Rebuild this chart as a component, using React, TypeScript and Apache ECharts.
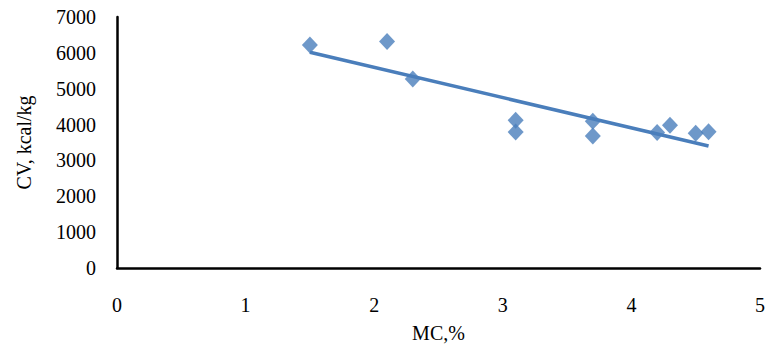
import React, { useEffect, useRef } from "react";
import * as echarts from "echarts";

const mcValues = [1.5, 2.1, 2.3, 3.1, 3.1, 3.7, 3.7, 4.2, 4.3, 4.5, 4.6];
const cvValues = [6220, 6320, 5270, 4120, 3790, 4090, 3680, 3780, 3980, 3760, 3800];
const xTicks = [0, 1, 2, 3, 4, 5];
const yTicks = [0, 1000, 2000, 3000, 4000, 5000, 6000, 7000];

function linearFit(xs: number[], ys: number[]) {
  const n = xs.length;
  const mx = xs.reduce((a, b) => a + b, 0) / n;
  const my = ys.reduce((a, b) => a + b, 0) / n;
  let sxy = 0, sxx = 0;
  for (let i = 0; i < n; i++) {
    sxy += (xs[i] - mx) * (ys[i] - my);
    sxx += (xs[i] - mx) * (xs[i] - mx);
  }
  const slope = sxy / sxx;
  return { slope, intercept: my - slope * mx };
}

export default function App() {
  const ref = useRef<HTMLDivElement>(null);
  useEffect(() => {
    if (!ref.current) return;
    const chart = echarts.init(ref.current, null, { renderer: "svg" });
    const fit = linearFit(mcValues, cvValues);
    const xMin = Math.min(...mcValues);
    const xMax = Math.max(...mcValues);
    const trend = [
      [xMin, fit.intercept + fit.slope * xMin],
      [xMax, fit.intercept + fit.slope * xMax],
    ];
    const font = "'Liberation Serif', 'Times New Roman', serif";
    chart.setOption({
      animation: false,
      grid: { left: 117, right: 10, top: 17, bottom: 82, containLabel: false },
      xAxis: {
        type: "value",
        min: xTicks[0],
        max: xTicks[xTicks.length - 1],
        interval: 1,
        name: "MC,%",
        nameLocation: "middle",
        nameGap: 55,
        nameTextStyle: { fontFamily: font, fontSize: 20, color: "#000" },
        axisLine: { show: true, onZero: false, lineStyle: { color: "#000", width: 2.5 } },
        axisTick: { show: false },
        splitLine: { show: false },
        axisLabel: { fontFamily: font, fontSize: 20, color: "#000", margin: 27, formatter: (v: number) => String(v) },
      },
      yAxis: {
        type: "value",
        min: yTicks[0],
        max: yTicks[yTicks.length - 1],
        interval: 1000,
        name: "CV, kcal/kg",
        nameLocation: "middle",
        nameGap: 83,
        nameTextStyle: { fontFamily: font, fontSize: 20, color: "#000" },
        axisLine: { show: true, lineStyle: { color: "#000", width: 2.5 } },
        axisTick: { show: false },
        splitLine: { show: false },
        axisLabel: { fontFamily: font, fontSize: 20, color: "#000", margin: 21, formatter: (v: number) => String(v) },
      },
      series: [
        {
          type: "line",
          data: trend,
          showSymbol: false,
          symbol: "none",
          lineStyle: { color: "#4A7EBB", width: 3.5 },
          z: 2,
        },
        {
          type: "scatter",
          data: mcValues.map((x, i) => [x, cvValues[i]]),
          symbol: "diamond",
          symbolSize: [16, 17],
          itemStyle: { color: "#4A7EBB" },
          z: 3,
        },
      ],
    });
    return () => chart.dispose();
  }, []);
  return (
    <div style={{ position: "absolute", left: 0, top: 0, width: 770, height: 350 }}>
      <div ref={ref} style={{ width: 770, height: 350 }} />
    </div>
  );
}
